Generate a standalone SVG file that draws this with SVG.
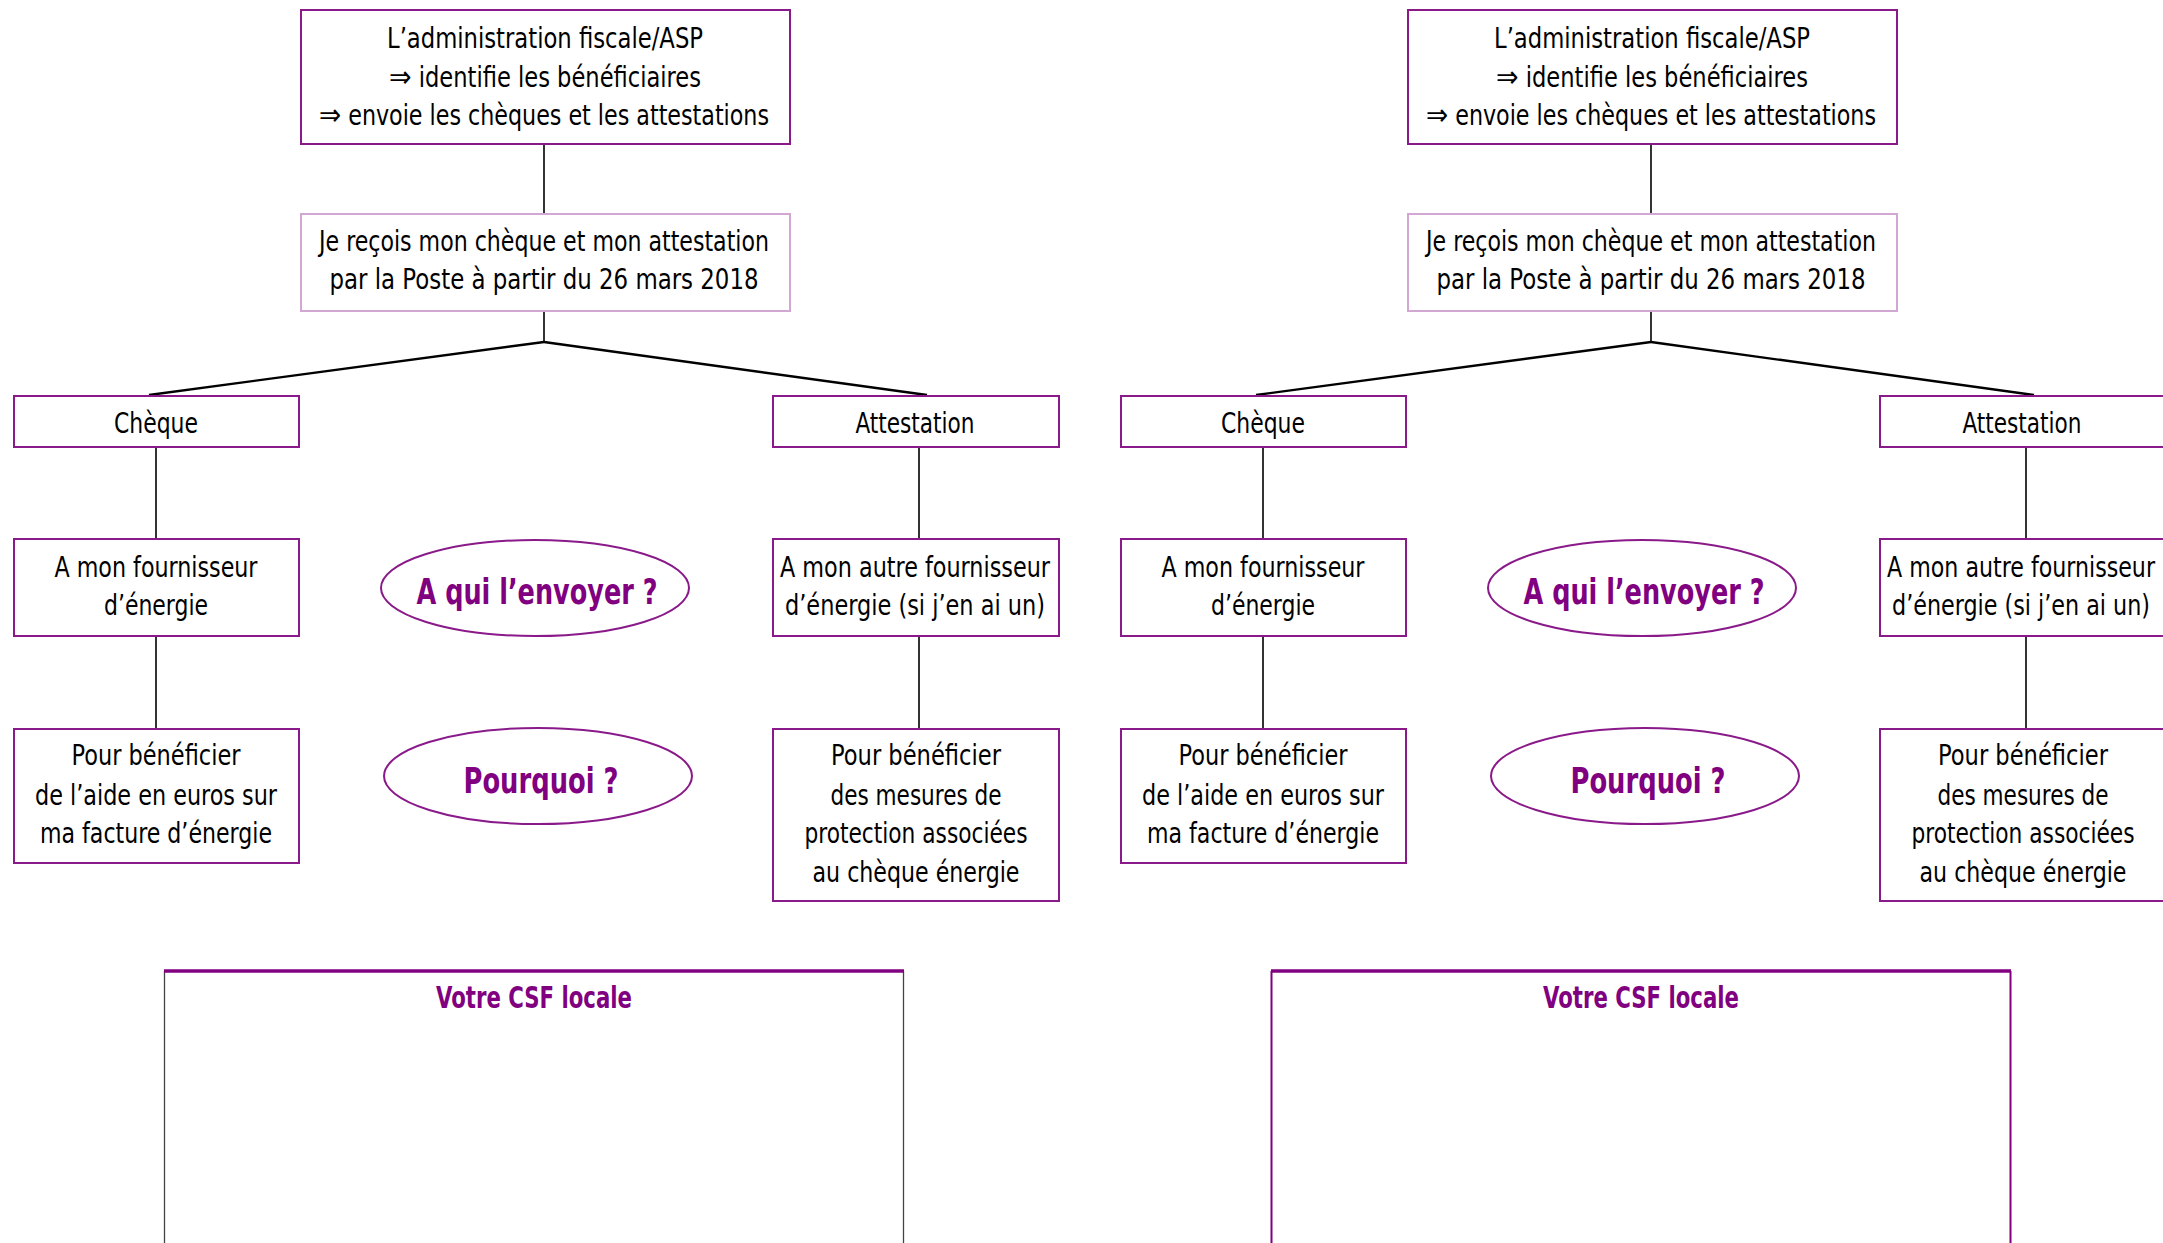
<svg xmlns="http://www.w3.org/2000/svg" width="2163" height="1243" viewBox="0 0 2163 1243">
<style>
.bg{fill:#ffffff}
.box{fill:#ffffff;stroke:#8a1a8a;stroke-width:2}
.box2{fill:#ffffff;stroke:#d2a8d2;stroke-width:2}
.ell{fill:#ffffff;stroke:#8a1a8a;stroke-width:2}
.t{font-family:"Liberation Sans Narrow","DejaVu Sans Condensed","Liberation Sans",sans-serif;font-size:28px;fill:#000000;text-anchor:middle}
.ar{font-family:"DejaVu Sans","Liberation Sans",sans-serif;font-size:30px}
.q{font-family:"Liberation Sans Narrow","DejaVu Sans Condensed","Liberation Sans",sans-serif;font-size:35px;font-weight:bold;fill:#800080;text-anchor:middle}
.csf{font-family:"Liberation Sans Narrow","DejaVu Sans Condensed","Liberation Sans",sans-serif;font-size:31px;font-weight:bold;fill:#800080;text-anchor:middle}
.ln{stroke:#000000;stroke-width:1.6;fill:none}
.dg{stroke:#000000;stroke-width:2.4;fill:none}
</style>
<rect class="bg" x="0" y="0" width="2163" height="1243"/>

<g id="panel-left">
<g id="connectors-left">
<line class="ln" x1="544" y1="145" x2="544" y2="213"/>
<line class="ln" x1="544" y1="311" x2="544" y2="342"/>
<line class="dg" x1="544" y1="342" x2="149" y2="395"/>
<line class="dg" x1="544" y1="342" x2="927" y2="395"/>
<line class="ln" x1="156" y1="447" x2="156" y2="539"/>
<line class="ln" x1="156" y1="636" x2="156" y2="728"/>
<line class="ln" x1="919" y1="447" x2="919" y2="539"/>
<line class="ln" x1="919" y1="636" x2="919" y2="728"/>
</g>
<g id="L-admin">
<rect class="box" x="301" y="10" width="489" height="134"/>
<text class="t" x="545" y="48" textLength="316" lengthAdjust="spacingAndGlyphs">L’administration fiscale/ASP</text>
<text class="t" x="545" y="87" textLength="312" lengthAdjust="spacingAndGlyphs"><tspan class="ar">⇒</tspan> identifie les bénéficiaires</text>
<text class="t" x="544" y="125" textLength="450" lengthAdjust="spacingAndGlyphs"><tspan class="ar">⇒</tspan> envoie les chèques et les attestations</text>
</g>
<g id="L-recois">
<rect class="box2" x="301" y="214" width="489" height="97"/>
<text class="t" x="544" y="251" textLength="450" lengthAdjust="spacingAndGlyphs">Je reçois mon chèque et mon attestation</text>
<text class="t" x="544" y="289" textLength="429" lengthAdjust="spacingAndGlyphs">par la Poste à partir du 26 mars 2018</text>
</g>
<g id="L-cheque">
<rect class="box" x="14" y="396" width="285" height="51"/>
<text class="t" x="156" y="433" textLength="84" lengthAdjust="spacingAndGlyphs">Chèque</text>
</g>
<g id="L-attestation">
<rect class="box" x="773" y="396" width="286" height="51"/>
<text class="t" x="915" y="433" textLength="119" lengthAdjust="spacingAndGlyphs">Attestation</text>
</g>
<g id="L-fournisseur">
<rect class="box" x="14" y="539" width="285" height="97"/>
<text class="t" x="156" y="577" textLength="203" lengthAdjust="spacingAndGlyphs">A mon fournisseur</text>
<text class="t" x="156" y="615" textLength="104" lengthAdjust="spacingAndGlyphs">d’énergie</text>
</g>
<g id="L-envoyer">
<ellipse class="ell" cx="535" cy="588" rx="154" ry="48"/>
<text class="q" x="537" y="604" textLength="241" lengthAdjust="spacingAndGlyphs">A qui l’envoyer ?</text>
</g>
<g id="L-autre">
<rect class="box" x="773" y="539" width="286" height="97"/>
<text class="t" x="915" y="577" textLength="270" lengthAdjust="spacingAndGlyphs">A mon autre fournisseur</text>
<text class="t" x="915" y="615" textLength="260" lengthAdjust="spacingAndGlyphs">d’énergie (si j’en ai un)</text>
</g>
<g id="L-aide">
<rect class="box" x="14" y="729" width="285" height="134"/>
<text class="t" x="156" y="765" textLength="169" lengthAdjust="spacingAndGlyphs">Pour bénéficier</text>
<text class="t" x="156" y="805" textLength="242" lengthAdjust="spacingAndGlyphs">de l’aide en euros sur</text>
<text class="t" x="156" y="843" textLength="232" lengthAdjust="spacingAndGlyphs">ma facture d’énergie</text>
</g>
<g id="L-pourquoi">
<ellipse class="ell" cx="538" cy="776" rx="154" ry="48"/>
<text class="q" x="541" y="793" textLength="155" lengthAdjust="spacingAndGlyphs">Pourquoi ?</text>
</g>
<g id="L-mesures">
<rect class="box" x="773" y="729" width="286" height="172"/>
<text class="t" x="916" y="765" textLength="170" lengthAdjust="spacingAndGlyphs">Pour bénéficier</text>
<text class="t" x="916" y="805" textLength="171" lengthAdjust="spacingAndGlyphs">des mesures de</text>
<text class="t" x="916" y="843" textLength="223" lengthAdjust="spacingAndGlyphs">protection associées</text>
<text class="t" x="916" y="882" textLength="207" lengthAdjust="spacingAndGlyphs">au chèque énergie</text>
</g>
<g id="L-csf">
<path d="M164.5 1243 V971 M903.5 971 V1243" stroke="#444444" stroke-width="1.3" fill="none"/>
<line x1="164" y1="971" x2="904" y2="971" stroke="#800080" stroke-width="3.5"/>
<text class="csf" x="534" y="1008" textLength="196" lengthAdjust="spacingAndGlyphs">Votre CSF locale</text>
</g>
</g>

<g id="panel-right" transform="translate(1107,0)">
<g id="connectors-right">
<line class="ln" x1="544" y1="145" x2="544" y2="213"/>
<line class="ln" x1="544" y1="311" x2="544" y2="342"/>
<line class="dg" x1="544" y1="342" x2="149" y2="395"/>
<line class="dg" x1="544" y1="342" x2="927" y2="395"/>
<line class="ln" x1="156" y1="447" x2="156" y2="539"/>
<line class="ln" x1="156" y1="636" x2="156" y2="728"/>
<line class="ln" x1="919" y1="447" x2="919" y2="539"/>
<line class="ln" x1="919" y1="636" x2="919" y2="728"/>
</g>
<g id="R-admin">
<rect class="box" x="301" y="10" width="489" height="134"/>
<text class="t" x="545" y="48" textLength="316" lengthAdjust="spacingAndGlyphs">L’administration fiscale/ASP</text>
<text class="t" x="545" y="87" textLength="312" lengthAdjust="spacingAndGlyphs"><tspan class="ar">⇒</tspan> identifie les bénéficiaires</text>
<text class="t" x="544" y="125" textLength="450" lengthAdjust="spacingAndGlyphs"><tspan class="ar">⇒</tspan> envoie les chèques et les attestations</text>
</g>
<g id="R-recois">
<rect class="box2" x="301" y="214" width="489" height="97"/>
<text class="t" x="544" y="251" textLength="450" lengthAdjust="spacingAndGlyphs">Je reçois mon chèque et mon attestation</text>
<text class="t" x="544" y="289" textLength="429" lengthAdjust="spacingAndGlyphs">par la Poste à partir du 26 mars 2018</text>
</g>
<g id="R-cheque">
<rect class="box" x="14" y="396" width="285" height="51"/>
<text class="t" x="156" y="433" textLength="84" lengthAdjust="spacingAndGlyphs">Chèque</text>
</g>
<g id="R-attestation">
<rect class="box" x="773" y="396" width="286" height="51"/>
<text class="t" x="915" y="433" textLength="119" lengthAdjust="spacingAndGlyphs">Attestation</text>
</g>
<g id="R-fournisseur">
<rect class="box" x="14" y="539" width="285" height="97"/>
<text class="t" x="156" y="577" textLength="203" lengthAdjust="spacingAndGlyphs">A mon fournisseur</text>
<text class="t" x="156" y="615" textLength="104" lengthAdjust="spacingAndGlyphs">d’énergie</text>
</g>
<g id="R-envoyer">
<ellipse class="ell" cx="535" cy="588" rx="154" ry="48"/>
<text class="q" x="537" y="604" textLength="241" lengthAdjust="spacingAndGlyphs">A qui l’envoyer ?</text>
</g>
<g id="R-autre">
<rect class="box" x="773" y="539" width="286" height="97"/>
<text class="t" x="914" y="577" textLength="268" lengthAdjust="spacingAndGlyphs">A mon autre fournisseur</text>
<text class="t" x="914" y="615" textLength="258" lengthAdjust="spacingAndGlyphs">d’énergie (si j’en ai un)</text>
</g>
<g id="R-aide">
<rect class="box" x="14" y="729" width="285" height="134"/>
<text class="t" x="156" y="765" textLength="169" lengthAdjust="spacingAndGlyphs">Pour bénéficier</text>
<text class="t" x="156" y="805" textLength="242" lengthAdjust="spacingAndGlyphs">de l’aide en euros sur</text>
<text class="t" x="156" y="843" textLength="232" lengthAdjust="spacingAndGlyphs">ma facture d’énergie</text>
</g>
<g id="R-pourquoi">
<ellipse class="ell" cx="538" cy="776" rx="154" ry="48"/>
<text class="q" x="541" y="793" textLength="155" lengthAdjust="spacingAndGlyphs">Pourquoi ?</text>
</g>
<g id="R-mesures">
<rect class="box" x="773" y="729" width="286" height="172"/>
<text class="t" x="916" y="765" textLength="170" lengthAdjust="spacingAndGlyphs">Pour bénéficier</text>
<text class="t" x="916" y="805" textLength="171" lengthAdjust="spacingAndGlyphs">des mesures de</text>
<text class="t" x="916" y="843" textLength="223" lengthAdjust="spacingAndGlyphs">protection associées</text>
<text class="t" x="916" y="882" textLength="207" lengthAdjust="spacingAndGlyphs">au chèque énergie</text>
</g>
<g id="R-csf">
<path d="M164.5 1243 V971 M903.5 971 V1243" stroke="#800080" stroke-width="2" fill="none"/>
<line x1="164" y1="971" x2="904" y2="971" stroke="#800080" stroke-width="3.5"/>
<text class="csf" x="534" y="1008" textLength="196" lengthAdjust="spacingAndGlyphs">Votre CSF locale</text>
</g>
</g>
</svg>
